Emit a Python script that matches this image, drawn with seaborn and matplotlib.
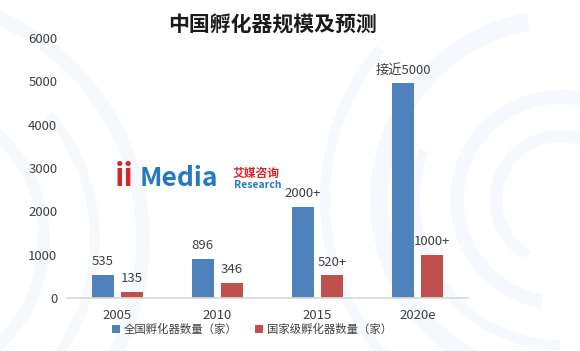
import matplotlib
matplotlib.use("Agg")
import matplotlib.pyplot as plt
import seaborn as sns
import pandas as pd
import numpy as np
from matplotlib.patches import Wedge, Circle

years = ["2005", "2010", "2015", "2020e"]
total_counts = [535, 896, 2100, 4950]
national_counts = [135, 346, 520, 1000]
total_labels = ["535", "896", "2000+", "接近5000"]
national_labels = ["135", "346", "520+", "1000+"]
series_names = ["全国孵化器数量（家）", "国家级孵化器数量（家）"]
y_ticks = [0, 1000, 2000, 3000, 4000, 5000, 6000]

sns.set_theme(style="white")
plt.rcParams['font.family'] = ['Noto Sans CJK SC', 'DejaVu Sans']

df = pd.DataFrame({
    "year": years * 2,
    "value": total_counts + national_counts,
    "series": [series_names[0]] * 4 + [series_names[1]] * 4,
    "label": total_labels + national_labels,
})

fig = plt.figure(figsize=(5.8, 3.51), dpi=100)
fig.patch.set_facecolor("white")

# faint background decoration
bg = fig.add_axes([0, 0, 1, 1], zorder=-5)
bg.set_xlim(0, 580); bg.set_ylim(351, 0); bg.axis("off")
deco = "#e4edf7"
for r, w, t1, t2 in [(70, 12, 120, 300), (110, 14, 100, 330), (150, 10, 90, 200), (190, 18, 110, 260), (240, 10, 100, 220)]:
    bg.add_patch(Wedge((560, 200), r, t1, t2, width=w, color=deco, alpha=0.35, lw=0))
for r, w, t1, t2 in [(150, 12, -60, 60), (200, 10, -40, 70), (250, 14, -70, 30)]:
    bg.add_patch(Wedge((-100, 240), r, t1, t2, width=w, color=deco, alpha=0.3, lw=0))

ax = fig.add_axes([0.1155, 0.151, 0.691, 0.741])
ax.set_facecolor("none")
palette = ["#4f81bd", "#c0504d"]
sns.barplot(data=df, x="year", y="value", hue="series", palette=palette,
            width=0.58, gap=0.24, ax=ax, legend=True, saturation=1, linewidth=0)

ax.set_ylim(0, 6000)
ax.set_yticks(y_ticks)
ax.set_yticklabels([str(v) for v in y_ticks], fontsize=9.5, color="#404040")
ax.tick_params(axis="x", labelsize=9.5, colors="#404040", length=0, pad=8)
ax.tick_params(axis="y", length=0, pad=7)
ax.set_xlabel(""); ax.set_ylabel("")
for s in ["left", "right", "top"]:
    ax.spines[s].set_visible(False)
ax.spines["bottom"].set_color("#d9d9d9")
ax.set_xlim(-0.5, 3.5)

for cont, labs in zip(ax.containers, [total_labels, national_labels]):
    ax.bar_label(cont, labels=labs, padding=5, fontsize=9.5, color="#404040")

h, l = ax.get_legend_handles_labels()
ax.legend_.remove()
fig.legend(h, l, loc="center", bbox_to_anchor=(252/580, 1 - 329/351), ncol=2,
           frameon=False, fontsize=8.2, handlelength=0.7, handleheight=0.7,
           handletextpad=0.3, columnspacing=1.6, labelcolor="#404040")

fig.text(272/580, 1 - 25/351, "中国孵化器规模及预测", ha="center", va="center",
         fontsize=15, fontweight="bold", color="#1a1a1a")

# logo text
fig.text(115/580, 1 - 177/351, "ii", ha="left", va="center", fontsize=22,
         fontweight="bold", color="#d8262b")
fig.text(140/580, 1 - 179/351, "Media", ha="left", va="center", fontsize=19,
         fontweight="bold", color="#2479c2")
fig.text(233/580, 1 - 173/351, "艾媒咨询", ha="left", va="center", fontsize=8.5,
         fontweight="bold", color="#d8262b")
fig.text(234/580, 1 - 185/351, "Research", ha="left", va="center", fontsize=7.5,
         fontstyle="italic", fontweight="bold", color="#2479c2")

fig.savefig("out.png", dpi=100)
